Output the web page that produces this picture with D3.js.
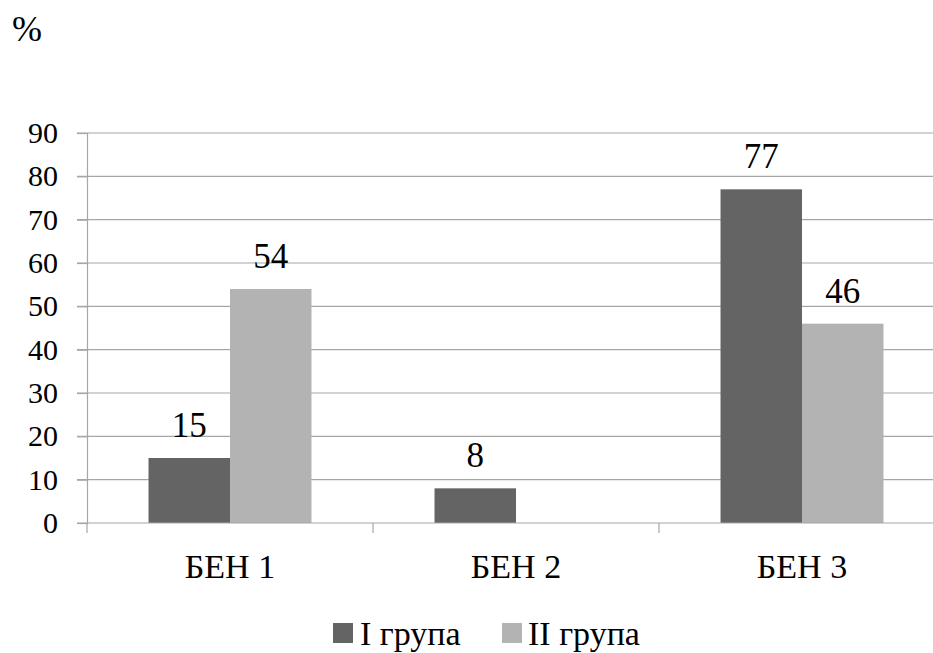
<!DOCTYPE html>
<html><head><meta charset="utf-8">
<script src="https://cdn.jsdelivr.net/npm/d3@7"></script>
<style>body{margin:0;background:#fff}svg{display:block}</style>
</head><body><svg id="c" width="933" height="653"></svg>
<script>
const categories = ["БЕН 1", "БЕН 2", "БЕН 3"];
const seriesNames = ["I група", "II група"];
const group1 = [15, 8, 77];
const group2 = [54, null, 46];
const yTicks = [0, 10, 20, 30, 40, 50, 60, 70, 80, 90];
const colors = ["#646464", "#b3b3b3"];
const unitLabel = "%";
const FONT = "'Liberation Serif', 'Times New Roman', Tinos, 'DejaVu Serif', 'Noto Serif', serif";

const svg = d3.select("#c").attr("font-family", FONT);
const y = d3.scaleLinear().domain([0, 90]).range([523, 133]);
const x0 = d3.scaleBand().domain(categories).range([87, 945]).paddingInner(0).paddingOuter(0);
const x1 = d3.scaleBand().domain(seriesNames).range([0, x0.bandwidth()]).paddingInner(0).paddingOuter(0.755);

// gridlines
svg.append("g").selectAll("line").data(yTicks.filter(d => d > 0)).join("line")
  .attr("x1", 77).attr("x2", 945).attr("y1", d => y(d)).attr("y2", d => y(d))
  .attr("stroke", "#a6a6a6").attr("stroke-width", 1.2);

// y axis
const yAxis = d3.axisLeft(y).tickValues(yTicks).tickSize(10).tickPadding(19).tickFormat(d3.format("d"));
const gy = svg.append("g").attr("transform", "translate(87,0)").call(yAxis).attr("font-family", FONT).attr("font-size", 30);
gy.select(".domain").attr("stroke", "#a6a6a6").attr("stroke-width", 1.2);
gy.selectAll(".tick line").attr("stroke", "#a6a6a6").attr("stroke-width", 1.2);
gy.selectAll(".tick text").attr("font-size", 30).attr("font-family", FONT).attr("fill", "#000");

// bars
const data = categories.map((c, i) => ({cat: c, vals: [group1[i], group2[i]]}));
const groups = svg.append("g").selectAll("g").data(data).join("g")
  .attr("transform", d => `translate(${x0(d.cat)},0)`);
groups.selectAll("rect").data(d => d.vals.map((v, j) => ({v, s: seriesNames[j], j})).filter(e => e.v != null)).join("rect")
  .attr("x", e => x1(e.s)).attr("width", x1.bandwidth())
  .attr("y", e => y(e.v)).attr("height", e => y(0) - y(e.v))
  .attr("fill", e => colors[e.j]);
groups.selectAll("text.lbl").data(d => d.vals.map((v, j) => ({v, s: seriesNames[j], j})).filter(e => e.v != null)).join("text")
  .attr("class", "lbl").attr("font-family", FONT)
  .attr("x", e => x1(e.s) + x1.bandwidth() / 2).attr("y", e => y(e.v) - 21)
  .attr("text-anchor", "middle").attr("font-size", 35).text(e => e.v);

// x axis
const gx = svg.append("g").attr("transform", `translate(0,${y(0)})`);
gx.append("line").attr("x1", 77).attr("x2", 945).attr("y1", 0).attr("y2", 0).attr("stroke", "#a6a6a6").attr("stroke-width", 1.2);
gx.selectAll("line.sep").data(categories.map(c => x0(c)).concat([x0(categories[2]) + x0.bandwidth()])).join("line")
  .attr("class", "sep").attr("x1", d => d).attr("x2", d => d).attr("y1", 0).attr("y2", 10)
  .attr("stroke", "#a6a6a6").attr("stroke-width", 1.2);
gx.selectAll("text.cat").data(categories).join("text").attr("class", "cat").attr("font-family", FONT)
  .attr("x", d => x0(d) + x0.bandwidth() / 2).attr("y", 578 - y(0))
  .attr("text-anchor", "middle").attr("font-size", 34).text(d => d);

// unit label
svg.append("text").attr("font-family", FONT).attr("x", 12).attr("y", 41).attr("font-size", 36).text(unitLabel);

// legend
const legX = [333, 502];
const lg = svg.append("g").selectAll("g").data(seriesNames).join("g")
  .attr("transform", (d, i) => `translate(${legX[i]},623)`);
lg.append("rect").attr("width", 20).attr("height", 20).attr("fill", (d, i) => colors[i]);
lg.append("text").attr("font-family", FONT).attr("x", (d, i) => i === 0 ? 27 : 26).attr("y", 22).attr("font-size", 34).text(d => d);
</script></body></html>
